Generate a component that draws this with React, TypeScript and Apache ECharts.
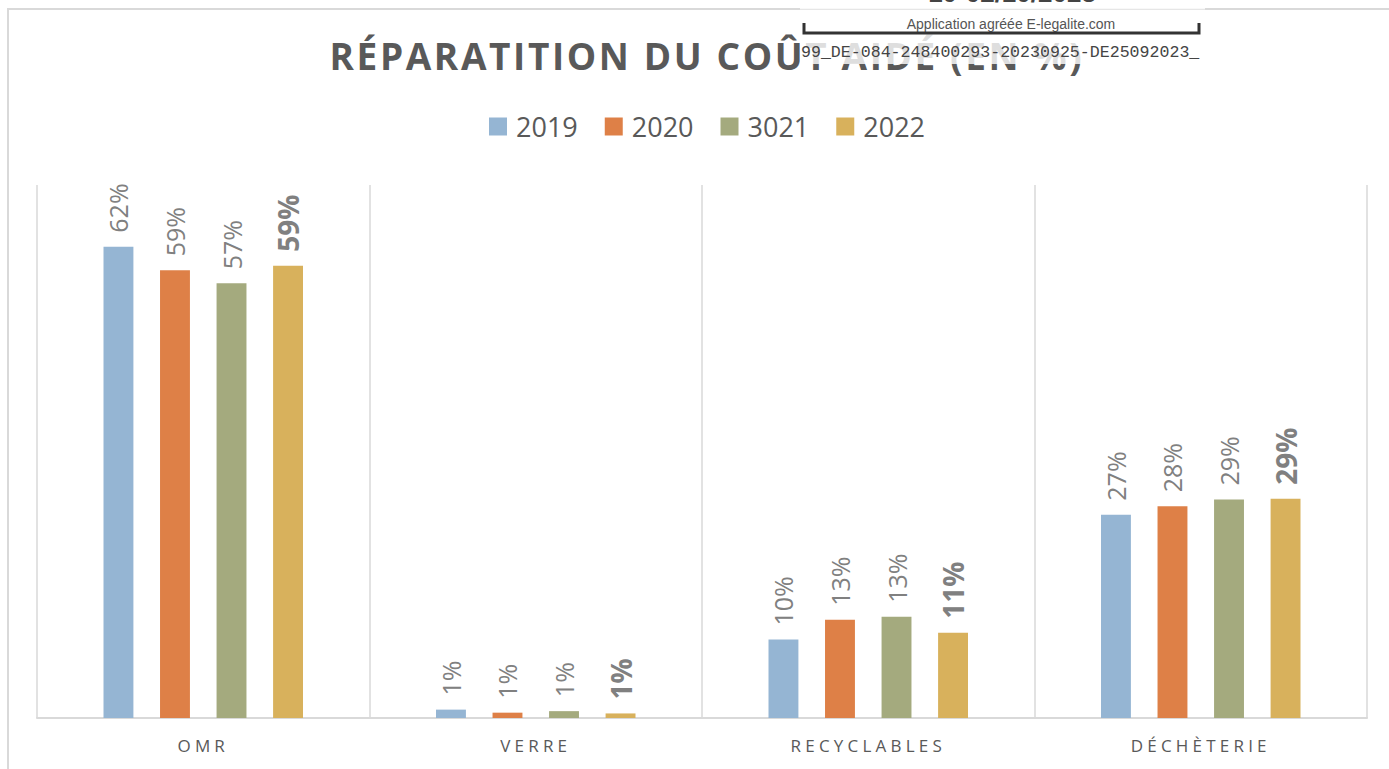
import React, { useEffect, useRef } from 'react';
import * as echarts from 'echarts';

const titleText = 'RÉPARATITION DU COÛT AIDÉ (EN %)';
const categories = ['OMR', 'VERRE', 'RECYCLABLES', 'DÉCHÈTERIE'];
const seriesNames = ['2019', '2020', '3021', '2022'];
const values2019 = [61.9, 1.1, 10.3, 26.7];
const values2020 = [58.8, 0.7, 12.9, 27.8];
const values3021 = [57.1, 0.9, 13.3, 28.7];
const values2022 = [59.4, 0.6, 11.2, 28.8];
const seriesValues = [values2019, values2020, values3021, values2022];
const colors = ['#95b5d3', '#de8047', '#a4aa7e', '#d8b15c'];
const stampDate = '10-02/10/2023';
const stampApp = 'Application agréée E-legalite.com';
const stampId = '99_DE-084-248400293-20230925-DE25092023_';

export default function App() {
  const ref = useRef<HTMLDivElement>(null);
  useEffect(() => {
    document.body.style.margin = '0';
    const el = ref.current!;
    const chart = echarts.init(el, null, { renderer: 'svg' });
    const font = '"Open Sans", "Noto Sans", sans-serif';
    const applySpacing = () => {
      el.querySelectorAll('text').forEach((t) => {
        const s = (t.textContent || '').trim();
        if (s === titleText) (t as any).style.letterSpacing = '2.6px';
        else if (categories.indexOf(s) >= 0) (t as any).style.letterSpacing = '4.2px';
      });
    };
    chart.on('finished', applySpacing);
    chart.setOption({
      animation: false,
      backgroundColor: '#ffffff',
      color: colors,
      title: {
        text: titleText,
        left: 702,
        textAlign: 'center',
        top: 32,
        textStyle: { fontFamily: font, fontSize: 37, fontWeight: 'bold', color: '#595959' },
      },
      legend: {
        data: seriesNames,
        left: 489,
        top: 113,
        padding: 0,
        itemWidth: 18,
        itemHeight: 18,
        itemGap: 27,
        icon: 'rect',
        textStyle: { fontFamily: font, fontSize: 27, color: '#595959', padding: [0, 0, 0, 4] },
      },
      grid: { left: 37, right: 22, top: 185, bottom: 51, containLabel: false },
      xAxis: {
        type: 'category',
        data: categories,
        axisLine: { show: true, lineStyle: { color: '#d9d9d9', width: 2 } },
        axisTick: { show: false },
        splitLine: { show: true, lineStyle: { color: '#d9d9d9', width: 1.5 } },
        axisLabel: { fontFamily: font, fontSize: 17, color: '#595959', margin: 19 },
      },
      yAxis: {
        type: 'value',
        min: 0,
        max: 70,
        show: false,
        splitLine: { show: false },
      },
      series: seriesNames.map((name, i) => ({
        name,
        type: 'bar',
        data: seriesValues[i],
        barGap: '89%',
        barCategoryGap: '40%',
        itemStyle: { color: colors[i] },
        label: {
          show: true,
          position: 'top',
          rotate: 90,
          align: 'left',
          verticalAlign: 'middle',
          distance: 14,
          fontFamily: font,
          fontSize: i === 3 ? 28 : 25,
          fontWeight: i === 3 ? 'bold' : 'normal',
          color: '#808080',
          formatter: (p: any) => Math.round(p.value) + '%',
        },
      })),
      graphic: [
        {
          type: 'rect',
          silent: true,
          z: -10,
          shape: { x: 8, y: 9, width: 1600, height: 1000 },
          style: { fill: 'none', stroke: '#d9d9d9', lineWidth: 2 },
        },
        {
          type: 'rect',
          z: 100,
          shape: { x: 800, y: 0, width: 405, height: 64 },
          style: { fill: 'rgba(255,255,255,0.8)' },
        },
        {
          type: 'text',
          z: 101,
          x: 1012,
          y: 6,
          style: {
            text: stampDate,
            fill: '#444',
            font: 'bold 26px "Liberation Sans", sans-serif',
            textAlign: 'center',
            textVerticalAlign: 'bottom',
          },
        },
        {
          type: 'line',
          z: 101,
          shape: { x1: 800, y1: 9.5, x2: 1205, y2: 9.5 },
          style: { stroke: '#e6e6e6', lineWidth: 1 },
        },
        {
          type: 'text',
          z: 101,
          x: 1011,
          y: 24,
          style: {
            text: stampApp,
            fill: '#555',
            font: '14px "Liberation Sans", sans-serif',
            textAlign: 'center',
            textVerticalAlign: 'middle',
          },
        },
        {
          type: 'polyline',
          z: 101,
          shape: { points: [[804, 23], [804, 33], [1199, 33], [1199, 23]] },
          style: { stroke: '#333', lineWidth: 3, fill: 'none' },
        },
        {
          type: 'text',
          z: 101,
          x: 801,
          y: 52,
          style: {
            text: stampId,
            fill: '#444',
            font: '16.6px "Liberation Mono", monospace',
            textAlign: 'left',
            textVerticalAlign: 'middle',
          },
        },
      ],
    });
    applySpacing();
    const raf = requestAnimationFrame(applySpacing);
    return () => {
      cancelAnimationFrame(raf);
      chart.dispose();
    };
  }, []);
  return <div ref={ref} style={{ width: 1389, height: 769 }} />;
}
